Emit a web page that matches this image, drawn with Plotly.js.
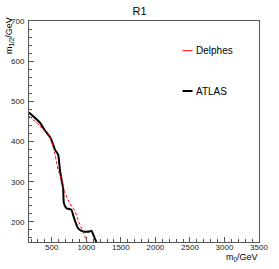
<!DOCTYPE html>
<html>
<head>
<meta charset="utf-8">
<script src="https://cdn.plot.ly/plotly-3.0.1.min.js"></script>
<style>html,body{margin:0;padding:0;background:#fff;}#chart{width:279px;height:269px;}</style>
</head>
<body>
<div id="chart"></div>
<script>
var atlasM0  = [170, 329, 391, 483, 545, 593, 617, 641, 664, 675, 713, 785, 809, 848, 881, 953, 1049, 1073, 1122, 1146];
var atlasM12 = [472, 447, 430, 409, 380, 367, 330, 305, 284, 247, 234, 230, 217, 197, 184, 176, 176, 178, 159, 150];
var delphesM0  = [170, 329, 401, 473, 521, 545, 593, 641, 689, 761, 833, 890, 953, 992, 1011];
var delphesM12 = [463, 439, 426, 414, 385, 368, 330, 305, 274, 246, 228, 200, 176, 158, 150];
var seriesNames = ["Delphes", "ATLAS"];
var chartTitle = "R1";

var font = "Liberation Sans, Arial, Helvetica, sans-serif";
var traces = [
  {x: atlasM0, y: atlasM12, mode: "lines", name: seriesNames[1],
   line: {color: "#000000", width: 2, shape: "spline", smoothing: 0.5}},
  {x: delphesM0, y: delphesM12, mode: "lines", name: seriesNames[0],
   line: {color: "#ff0000", width: 1, dash: "3px,2px", shape: "spline", smoothing: 0.5}}
];
var axisCommon = {
  showgrid: false, zeroline: false, showline: true, mirror: true,
  linecolor: "#555555", linewidth: 1, ticks: "inside", ticklen: 5, tickwidth: 1,
  tickcolor: "#555555", tickfont: {family: font, size: 8, color: "#222"}
};
var layout = {
  width: 279, height: 269,
  margin: {l: 29, r: 20, t: 21, b: 27},
  paper_bgcolor: "#fff", plot_bgcolor: "#fff",
  showlegend: false,
  font: {family: font, color: "#000"},
  title: {text: chartTitle, x: 0.5, xanchor: "center", y: 0.958, yanchor: "middle", yref: "container",
          font: {family: font, size: 11, color: "#000"}},
  xaxis: Object.assign({}, axisCommon, {range: [170, 3500], tickvals: [500,1000,1500,2000,2500,3000,3500],
    ticklabelstandoff: -3,
    minor: {dtick: 100, tick0: 0, ticks: "inside", ticklen: 3, tickcolor: "#555555"}}),
  yaxis: Object.assign({}, axisCommon, {range: [150, 700], tickvals: [200,300,400,500,600,700],
    ticklabelstandoff: 2,
    minor: {dtick: 20, tick0: 0, ticks: "inside", ticklen: 3, tickcolor: "#555555"}}),
  annotations: [
    {text: "m<sub>1/2</sub>/GeV", xref: "paper", yref: "paper", x: -0.082, y: 1.025, xanchor: "center", yanchor: "top",
     textangle: -90, showarrow: false, font: {family: font, size: 9, color: "#000"}},
    {text: "m<sub>0</sub>/GeV", xref: "paper", yref: "paper", x: 1.005, y: -0.07, xanchor: "right", yanchor: "middle",
     showarrow: false, font: {family: font, size: 9, color: "#000"}},
    {text: seriesNames[0], xref: "paper", yref: "paper", x: (195-29)/230.7, y: (242-50.7)/221, xanchor: "left", yanchor: "middle",
     showarrow: false, font: {family: font, size: 10, color: "#000"}},
    {text: seriesNames[1], xref: "paper", yref: "paper", x: (195-29)/230.7, y: (242-91)/221, xanchor: "left", yanchor: "middle",
     showarrow: false, font: {family: font, size: 10, color: "#000"}}
  ],
  shapes: [
    {type: "line", xref: "paper", yref: "paper", x0: (183-29)/230.7, x1: (193-29)/230.7, y0: (242-50.7)/221, y1: (242-50.7)/221,
     line: {color: "#ff0000", width: 1}},
    {type: "line", xref: "paper", yref: "paper", x0: (183-29)/230.7, x1: (193-29)/230.7, y0: (242-91)/221, y1: (242-91)/221,
     line: {color: "#000000", width: 2}}
  ]
};
Plotly.newPlot("chart", traces, layout, {displayModeBar: false, staticPlot: true});
</script>
</body>
</html>
